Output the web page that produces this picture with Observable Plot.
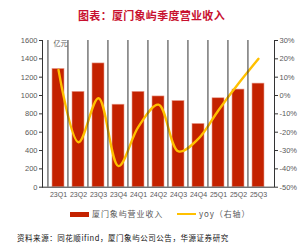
<!DOCTYPE html>
<html><head><meta charset="utf-8">
<script src="https://cdn.jsdelivr.net/npm/d3@7"></script>
<script src="https://cdn.jsdelivr.net/npm/@observablehq/plot@0.6"></script>
<style>
body{margin:0;background:#fff;width:303px;height:245px;overflow:hidden;font-family:"Liberation Sans",Arial,"Noto Sans CJK SC",sans-serif;}
#title{position:absolute;left:0;top:7px;width:303px;text-align:center;font:bold 11px "Noto Sans CJK SC",sans-serif;color:#C8102E;letter-spacing:0.3px;}
#chart{position:absolute;left:0;top:30px;}
#legend{position:absolute;top:208px;left:0;width:303px;font:8px "Noto Sans CJK SC",sans-serif;color:#595959;letter-spacing:0.9px;}
#legend span{position:absolute;white-space:nowrap;}
#source{position:absolute;left:17px;top:232px;font:7.5px "Noto Sans CJK SC",sans-serif;color:#111;white-space:nowrap;letter-spacing:0.55px;}
</style></head>
<body>
<div id="title">图表：厦门象屿季度营业收入</div>
<div id="chart"></div>
<div id="legend">
  <span style="left:70px;top:4px;width:19px;height:5px;background:#C42200;"></span>
  <span style="left:92px;top:0px;">厦门象屿营业收入</span>
  <span style="left:177px;top:5px;width:19px;height:2px;background:#FFC000;"></span>
  <span style="left:199px;top:0px;">yoy（右轴）</span>
</div>
<div id="source">资料来源：同花顺ifind，厦门象屿公司公告，华源证券研究</div>
<script>
const quarters = ["23Q1","23Q2","23Q3","23Q4","24Q1","24Q2","24Q3","24Q4","25Q1","25Q2","25Q3"];
const revenue = [1290,1040,1350,900,1040,990,940,690,970,1065,1130];
const yoy = [14,-25.5,-1.5,-38.5,-17,-5,-30.5,-23.5,-8,6.5,20];
const leftTicks = [0,200,400,600,800,1000,1200,1400,1600];
const rightTicks = [30,20,10,0,-10,-20,-30,-40,-50];
const unitLabel = ["亿元"];

const toY = p => (p + 50) / 80 * 1600;
const fromY = v => Math.round(v / 1600 * 80 - 50);

const bars = quarters.map((q,i) => ({q, v: revenue[i]}));
const line = quarters.map((q,i) => ({q, v: toY(yoy[i])}));
const grey = "#595959";

const chart = Plot.plot({
  width: 303, height: 170,
  marginLeft: 42, marginRight: 29, marginTop: 10, marginBottom: 13.3,
  style: {fontFamily: '"Liberation Sans", Arial, sans-serif', fontSize: "7.5px", color: grey, background: "transparent"},
  x: {domain: quarters, padding: 0.42, label: null},
  y: {domain: [0,1600], label: null},
  marks: [
    Plot.barY(bars, {x: "q", y: "v", fill: "#C42200", stroke: "#E8A090", strokeWidth: 0.6}),
    Plot.lineY(line, {x: "q", y: "v", stroke: "#FFC000", strokeWidth: 2.4, curve: "catmull-rom"}),
    Plot.ruleY([0], {stroke: "#333", strokeWidth: 1}),
    Plot.frame({anchor: "left", stroke: "#333"}),
    Plot.frame({anchor: "right", stroke: "#333"}),
    Plot.tickX(quarters, {x: d => d, y1: 0, dx: -10.55, stroke: "#333"}),
    Plot.axisY({anchor: "left", ticks: leftTicks, tickFormat: d => String(d), tickSize: 3, tickPadding: 2, stroke: "#333", fill: grey, label: null}),
    Plot.axisY({anchor: "right", ticks: rightTicks.map(toY), tickFormat: v => fromY(v) + "%", tickSize: 3, tickPadding: 2, stroke: "#333", fill: grey, label: null}),
    Plot.axisX({tickSize: 0, tickPadding: 5, fill: grey, fontSize: 7, label: null}),
    Plot.text(unitLabel, {x: () => quarters[0], y: 1570, text: d => d, dx: 2, fill: grey, fontSize: 7, fontFamily: '"Noto Sans CJK SC", sans-serif'})
  ]
});
document.getElementById("chart").appendChild(chart);
</script>
</body></html>
